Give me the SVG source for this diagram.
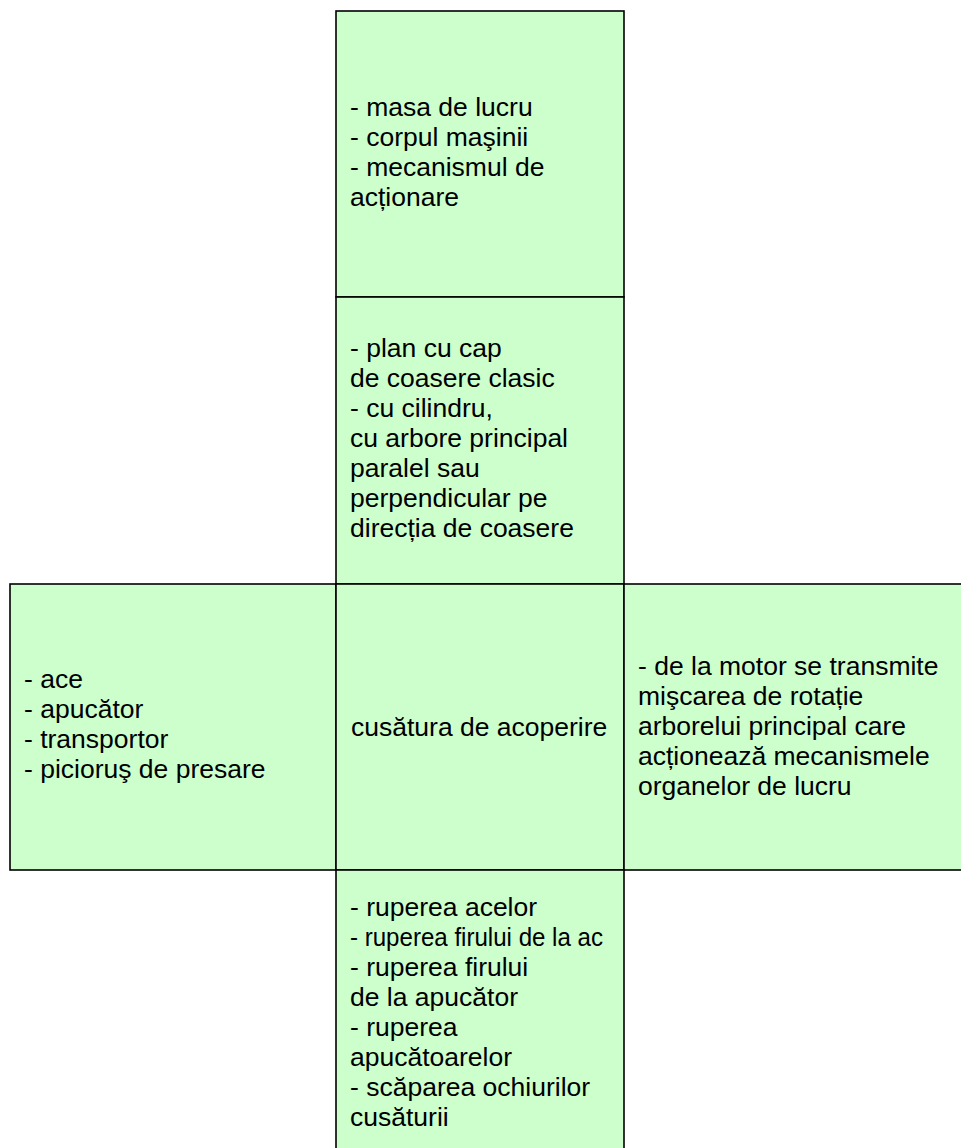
<svg xmlns="http://www.w3.org/2000/svg" width="961" height="1148" viewBox="0 0 961 1148">
<style>
.box{fill:#ccffcc;stroke:#000;stroke-width:1.6}
.t{font-family:"Liberation Sans",Arial,sans-serif;font-size:26.5px;fill:#000}
</style>
<rect width="961" height="1148" fill="#fff"/>
<g id="node-top">
<rect class="box" x="336" y="11" width="288" height="286"/>
<text class="t" x="350"><tspan x="350" y="116">- masa de lucru</tspan><tspan x="350" y="146">- corpul maşinii</tspan><tspan x="350" y="176">- mecanismul de</tspan><tspan x="350" y="206">acționare</tspan></text>
</g>
<g id="node-types">
<rect class="box" x="336" y="297" width="288" height="287"/>
<text class="t"><tspan x="350" y="357">- plan cu cap</tspan><tspan x="350" y="387">de coasere clasic</tspan><tspan x="350" y="417">- cu cilindru,</tspan><tspan x="350" y="447">cu arbore principal</tspan><tspan x="350" y="477">paralel sau</tspan><tspan x="350" y="507">perpendicular pe</tspan><tspan x="350" y="537">direcția de coasere</tspan></text>
</g>
<g id="node-left">
<rect class="box" x="10" y="584" width="326" height="286"/>
<text class="t"><tspan x="24" y="688">- ace</tspan><tspan x="24" y="718">- apucător</tspan><tspan x="24" y="748">- transportor</tspan><tspan x="24" y="778">- picioruş de presare</tspan></text>
</g>
<g id="node-center">
<rect class="box" x="336" y="584" width="288" height="286"/>
<text class="t" x="351" y="736">cusătura de acoperire</text>
</g>
<g id="node-right">
<rect class="box" x="624" y="584" width="345" height="286"/>
<text class="t"><tspan x="638" y="675">- de la motor se transmite</tspan><tspan x="638" y="705">mişcarea de rotație</tspan><tspan x="638" y="735">arborelui principal care</tspan><tspan x="638" y="765">acționează mecanismele</tspan><tspan x="638" y="795">organelor de lucru</tspan></text>
</g>
<g id="node-bottom">
<rect class="box" x="336" y="870" width="288" height="290"/>
<text class="t"><tspan x="350" y="916">- ruperea acelor</tspan></text>
<text class="t" x="350" y="946" textLength="253" lengthAdjust="spacingAndGlyphs">- ruperea firului de la ac</text>
<text class="t"><tspan x="350" y="976">- ruperea firului</tspan><tspan x="350" y="1006">de la apucător</tspan><tspan x="350" y="1036">- ruperea</tspan><tspan x="350" y="1066">apucătoarelor</tspan><tspan x="350" y="1096">- scăparea ochiurilor</tspan><tspan x="350" y="1126">cusăturii</tspan></text>
</g>
<g id="connectors"></g>
</svg>
